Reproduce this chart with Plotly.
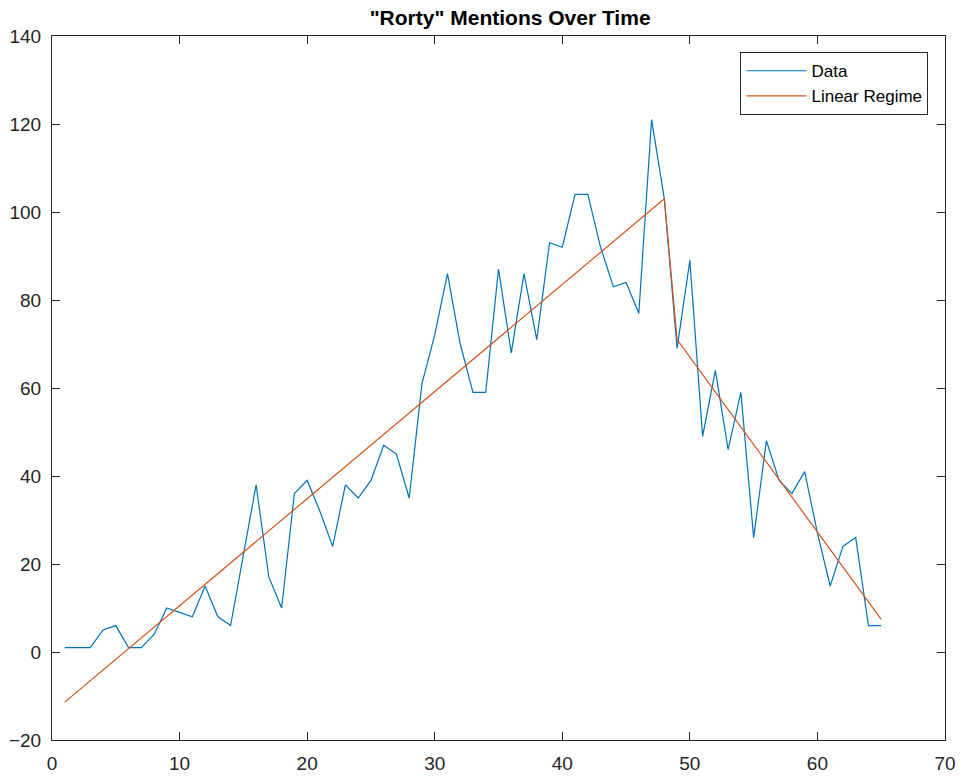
import plotly.graph_objects as go

# Observed "Rorty" mentions per time step
time_steps = list(range(1, 66))
mentions = [1, 1, 1, 5, 6, 1, 1, 4, 10, 9,
            8, 15, 8, 6, 22, 38, 17, 10, 36, 39,
            32, 24, 38, 35, 39, 47, 45, 35, 61, 72,
            86, 70, 59, 59, 87, 68, 86, 71, 93, 92,
            104, 104, 92, 83, 84, 77, 121, 103, 69, 89,
            49, 64, 46, 59, 26, 48, 39, 36, 41, 27,
            15, 24, 26, 6, 6]

# Piecewise linear regime (breakpoints of the fitted lines)
regime_x = [1, 48, 49, 65]
regime_y = [-11.4, 103, 71, 7.4]

x_ticks = [0, 10, 20, 30, 40, 50, 60, 70]
y_ticks = [-20, 0, 20, 40, 60, 80, 100, 120, 140]

BLUE = "#0072BD"
ORANGE = "#D95319"
AXIS = "#262626"
FONT = "Liberation Sans, Arial, Helvetica, sans-serif"

fig = go.Figure()
fig.add_trace(go.Scatter(x=time_steps, y=mentions, mode="lines", name="Data",
                         line=dict(color=BLUE, width=1.2)))
fig.add_trace(go.Scatter(x=regime_x, y=regime_y, mode="lines", name="Linear Regime",
                         line=dict(color=ORANGE, width=1.2)))

axis_common = dict(
    showgrid=False, zeroline=False, showline=True, linecolor=AXIS, linewidth=1,
    mirror="allticks", ticks="inside", ticklen=8, tickwidth=1, tickcolor=AXIS,
    tickfont=dict(family=FONT, size=19, color=AXIS), automargin=False,
)

fig.update_layout(
    width=963, height=778,
    margin=dict(l=52, r=18, t=36, b=38),
    paper_bgcolor="white", plot_bgcolor="white",
    title=dict(text='<b>"Rorty" Mentions Over Time</b>',
               font=dict(family=FONT, size=21, color="black"),
               x=0.513, xref="paper", xanchor="center",
               y=1 - 18 / 778, yref="container", yanchor="middle"),
    xaxis=dict(range=[0, 70], tickvals=x_ticks, ticklabelstandoff=6, **axis_common),
    yaxis=dict(range=[-20, 140], tickvals=y_ticks, ticklabelstandoff=6, **axis_common),
    legend=dict(x=0.9815, y=0.977, xanchor="right", yanchor="top",
                bgcolor="white", bordercolor=AXIS, borderwidth=1,
                font=dict(family=FONT, size=17, color="black"),
                itemwidth=60, tracegroupgap=0),
    showlegend=True,
)

fig.write_html("out.html")
